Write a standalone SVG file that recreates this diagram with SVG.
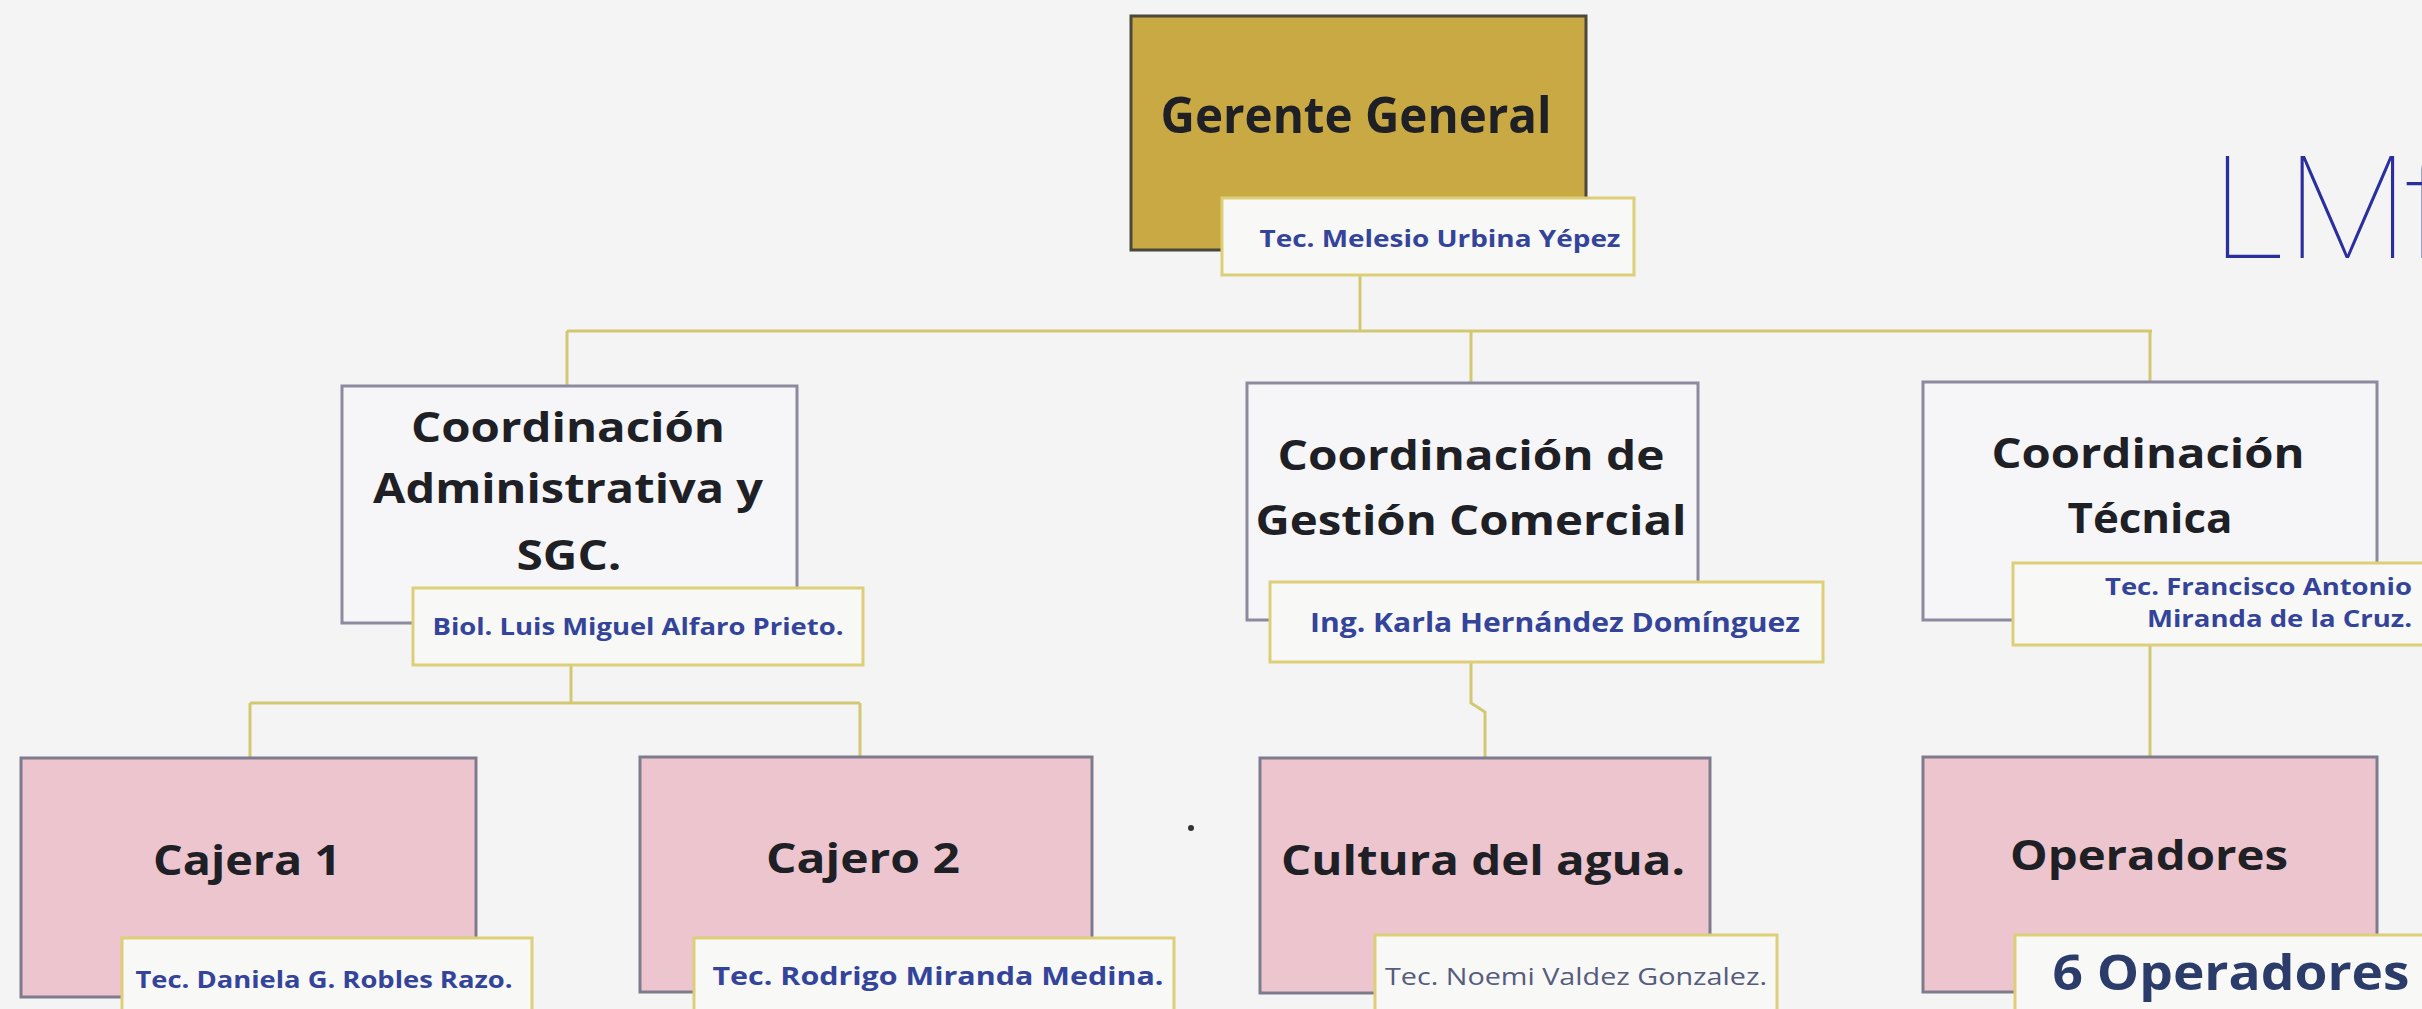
<svg xmlns="http://www.w3.org/2000/svg" width="2422" height="1009" viewBox="0 0 2422 1009">
<style>
.bg{fill:#F4F4F5}
.top{fill:#C9A944;stroke:#4B4838;stroke-width:3}
.coord{fill:#F6F6F8;stroke:#8C8A9E;stroke-width:3}
.pink{fill:#EDC5CF;stroke:#7E7C8C;stroke-width:3}
.lab{fill:#F8F8F6;stroke:#DCCF78;stroke-width:3}
.t{font-family:"Open Sans","Liberation Sans",sans-serif;font-weight:700;fill:#1F1F26;text-anchor:middle}
.s{font-family:"Open Sans","Liberation Sans",sans-serif;font-weight:700;fill:#33449A;text-anchor:middle}
.sr{font-family:"Open Sans","Liberation Sans",sans-serif;font-weight:400;fill:#565C7E;text-anchor:middle}
.conn{fill:none;stroke:#D2C872;stroke-width:3}
.hand{font-family:Inter,"Liberation Sans",sans-serif;font-weight:100;fill:#2B2F9E}
</style>
<rect class="bg" x="0" y="0" width="2422" height="1009"/>

<g id="connectors">
<path class="conn" d="M1360 275 V331"/>
<path class="conn" d="M567 331 H2152"/>
<path class="conn" d="M567 331 V386"/>
<path class="conn" d="M1471 331 V383"/>
<path class="conn" d="M2150 331 V382"/>
<path class="conn" d="M571 665 V703"/>
<path class="conn" d="M250 703 H860"/>
<path class="conn" d="M250 703 V758"/>
<path class="conn" d="M860 703 V757"/>
<path class="conn" d="M1471 662 V703 L1485 712 V758"/>
<path class="conn" d="M2150 645 V757"/>
</g>

<g id="gerente">
<rect class="top" x="1131" y="16" width="455" height="234"/>
<text class="t" x="1356" y="133" font-size="50" textLength="391" lengthAdjust="spacingAndGlyphs">Gerente General</text>
<rect class="lab" x="1222" y="198" width="412" height="77"/>
<text class="s" x="1440" y="247" font-size="24" textLength="361" lengthAdjust="spacingAndGlyphs">Tec. Melesio Urbina Yépez</text>
</g>

<g id="coord-admin">
<rect class="coord" x="342" y="386" width="455" height="237"/>
<text class="t" x="568" y="442" font-size="42" textLength="314" lengthAdjust="spacingAndGlyphs">Coordinación</text>
<text class="t" x="568" y="503" font-size="42" textLength="390" lengthAdjust="spacingAndGlyphs">Administrativa y</text>
<text class="t" x="569" y="570" font-size="42" textLength="105" lengthAdjust="spacingAndGlyphs">SGC.</text>
<rect class="lab" x="413" y="588" width="450" height="77"/>
<text class="s" x="638" y="635" font-size="23" textLength="411" lengthAdjust="spacingAndGlyphs">Biol. Luis Miguel Alfaro Prieto.</text>
</g>

<g id="coord-comercial">
<rect class="coord" x="1247" y="383" width="451" height="237"/>
<text class="t" x="1471" y="470" font-size="42" textLength="387" lengthAdjust="spacingAndGlyphs">Coordinación de</text>
<text class="t" x="1471" y="535" font-size="42" textLength="431" lengthAdjust="spacingAndGlyphs">Gestión Comercial</text>
<rect class="lab" x="1270" y="582" width="553" height="80"/>
<text class="s" x="1555" y="632" font-size="26" textLength="490" lengthAdjust="spacingAndGlyphs">Ing. Karla Hernández Domínguez</text>
</g>

<g id="coord-tecnica">
<rect class="coord" x="1923" y="382" width="454" height="238"/>
<text class="t" x="2148" y="468" font-size="42" textLength="313" lengthAdjust="spacingAndGlyphs">Coordinación</text>
<text class="t" x="2150" y="533" font-size="42" textLength="165" lengthAdjust="spacingAndGlyphs">Técnica</text>
<rect class="lab" x="2013" y="563" width="420" height="82"/>
<text class="s" x="2412" y="595" font-size="23" text-anchor="end" style="text-anchor:end" textLength="307" lengthAdjust="spacingAndGlyphs">Tec. Francisco Antonio</text>
<text class="s" x="2412" y="627" font-size="23" style="text-anchor:end" textLength="265" lengthAdjust="spacingAndGlyphs">Miranda de la Cruz.</text>
</g>

<g id="cajera1">
<rect class="pink" x="21" y="758" width="455" height="239"/>
<text class="t" x="247" y="875" font-size="42" textLength="188" lengthAdjust="spacingAndGlyphs">Cajera 1</text>
<rect class="lab" x="122" y="938" width="410" height="85"/>
<text class="s" x="324" y="988" font-size="23" textLength="377" lengthAdjust="spacingAndGlyphs">Tec. Daniela G. Robles Razo.</text>
</g>

<g id="cajero2">
<rect class="pink" x="640" y="757" width="452" height="235"/>
<text class="t" x="863" y="873" font-size="42" textLength="194" lengthAdjust="spacingAndGlyphs">Cajero 2</text>
<rect class="lab" x="694" y="938" width="480" height="85"/>
<text class="s" x="938" y="985" font-size="25" textLength="451" lengthAdjust="spacingAndGlyphs">Tec. Rodrigo Miranda Medina.</text>
</g>

<g id="cultura">
<rect class="pink" x="1260" y="758" width="450" height="235"/>
<text class="t" x="1483" y="875" font-size="42" textLength="404" lengthAdjust="spacingAndGlyphs">Cultura del agua.</text>
<rect class="lab" x="1375" y="935" width="402" height="88"/>
<text class="sr" x="1576" y="985" font-size="24" textLength="382" lengthAdjust="spacingAndGlyphs">Tec. Noemi Valdez Gonzalez.</text>
</g>

<g id="operadores">
<rect class="pink" x="1923" y="757" width="454" height="235"/>
<text class="t" x="2149" y="870" font-size="42" textLength="278" lengthAdjust="spacingAndGlyphs">Operadores</text>
<rect class="lab" x="2015" y="935" width="420" height="88"/>
<text class="s" x="2231" y="990" font-size="48" style="fill:#2B3C6B" textLength="357" lengthAdjust="spacingAndGlyphs">6 Operadores</text>
</g>

<circle cx="1191" cy="828" r="3" fill="#333"/>
<text class="hand" x="2210" y="258" font-size="140" letter-spacing="-4">LMf</text>
</svg>
